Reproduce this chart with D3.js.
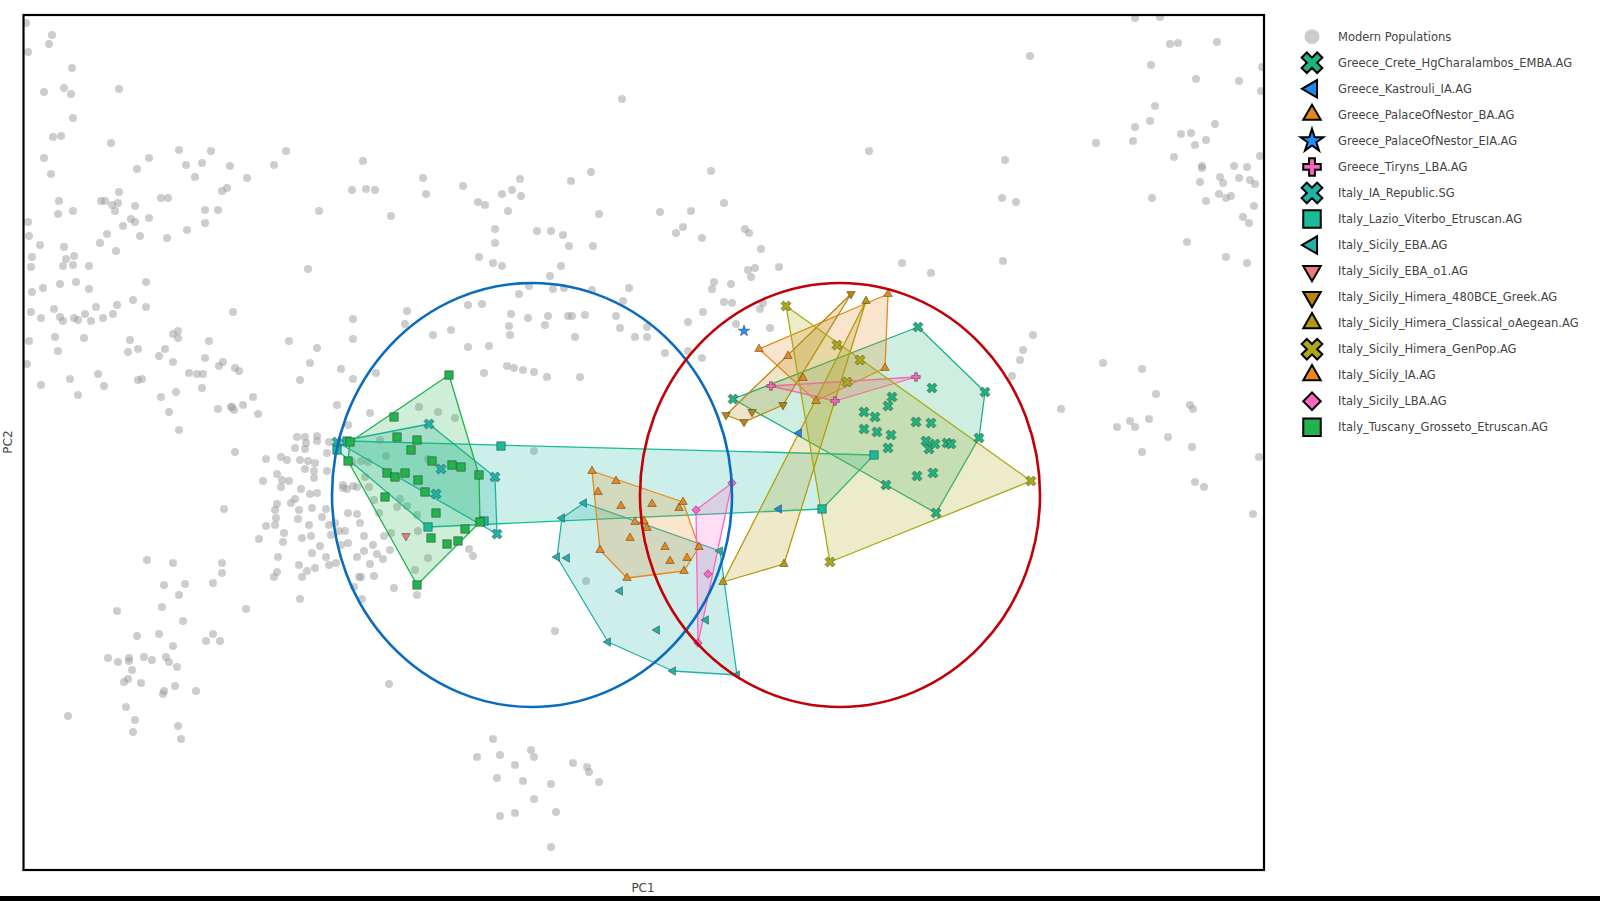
<!DOCTYPE html>
<html>
<head>
<meta charset="utf-8">
<script src="https://cdn.jsdelivr.net/npm/d3@7"></script>
<style>
  html, body { margin: 0; padding: 0; background: #fff; }
  svg { display: block; font-family: "DejaVu Sans", Verdana, sans-serif; }
</style>
</head>
<body>
<svg width="1600" height="901"></svg>
<script>

// PC scores, units of 1e-4  [PC1, PC2]
const modern = [
[-618,432],[-592,420],[-595,411],[-616,403],[-572,387],[-600,363],[-580,367],[-573,361],[-525,366],[-571,337],
[-591,318],[-583,319],[-533,312],[-600,297],[-593,281],[-495,297],[-507,286],[-465,305],[-458,290],[-442,292],
[-433,304],[-449,278],[-414,289],[-397,277],[-370,290],[-358,304],[-422,264],[-417,267],[-585,254],[-571,244],
[-586,241],[-543,254],[-539,254],[-525,263],[-532,250],[-526,252],[-529,244],[-509,249],[-483,257],[-476,257],
[-439,245],[-426,245],[-439,232],[-457,225],[-477,217],[-495,237],[-513,236],[-509,233],[-521,229],[-504,219],
[-537,221],[-544,212],[-528,204],[-616,233],[-615,219],[-604,210],[-580,208],[-612,198],[-613,188],[-578,196],
[-570,199],[-581,189],[-571,190],[-555,189],[-612,163],[-601,167],[-584,171],[-568,173],[-555,166],[-498,173],
[-292,265],[-278,266],[-269,265],[-281,294],[-325,244],[-253,239],[-336,186],[-511,155],
[-613,143],[-603,137],[-590,146],[-584,138],[-581,134],[-570,137],[-566,135],[-559,141],[-553,134],[-548,148],
[-541,137],[-531,141],[-527,150],[-498,148],[-411,143],[-615,114],[-589,118],[-586,104],[-560,117],[-514,115],
[-516,103],[-506,106],[-617,91],[-485,99],[-479,106],[-471,93],[-471,121],[-466,124],[-466,117],[-435,114],
[-439,97],[-425,89],[-421,93],[-409,87],[-405,84],[-455,82],[-447,81],[-441,81],[-574,76],[-546,81],
[-540,69],[-506,75],[-502,76],[-603,70],[-566,60],[-468,63],[-442,67],[-483,58],[-475,43],[-426,46],
[-413,48],[-410,45],[-401,50],[-391,58],[-386,41],[-465,25],[-355,114],[-327,107],[-334,92],[-344,75],
[-412,48],[-409,3],[-420,-54],[-378,-4],[-363,-2],[-357,-5],[-367,-19],[-362,-25],[-381,-26],[-355,-26],
[-363,-32],[-347,18],[-339,18],[-327,19],[-338,12],[-349,7],[-339,6],[-327,14],[-315,13],[-317,2],
[-344,-5],[-336,-6],[-329,-8],[-339,-14],[-330,-16],[-317,-16],[-307,50],[-274,42],[-296,30],[-330,-23],
[-343,-34],[-334,-39],[-327,-38],[-349,-44],[-367,-49],[-369,-55],[-353,-48],[-345,-55],[-332,-53],[-322,-62],
[-318,-54],[-368,-63],[-378,-71],[-369,-70],[-346,-64],[-335,-70],[-315,-70],[-309,-68],[-301,-30],[-301,-33],
[-297,-34],[-291,-31],[-287,-32],[-283,-6],[-279,-22],[-385,-84],[-360,-78],[-361,-87],[-342,-83],[-333,-81],
[-324,-91],[-313,-80],[-305,-76],[-299,-76],[-296,-58],[-287,-59],[-284,-68],[-280,-81],[-271,-90],[-280,-96],
[-287,-102],[-296,-88],[-303,-90],[-366,-102],[-332,-98],[-318,-102],[-345,-110],[-337,-116],[-329,-113],[-315,-110],
[-308,-108],[-367,-117],[-370,-122],[-342,-122],[-422,-108],[-422,-118],[-344,-144],[-398,-154],[-283,-122],[-270,-121],
[-282,-144],[-250,-133],[-274,-109],[-261,-104],[-254,-95],[-253,-78],[-244,-44],[-237,-51],[-247,-52],[-275,-32],
[-270,-45],[-265,-58],[-260,-81],[-227,-60],[-226,-76],[-276,-7],[-292,-7],
[-303,86],[-268,82],[-291,76],[-137,89],[-130,87],[-121,85],[-110,83],[-160,82],[-225,48],[-206,43],
[-189,37],[-110,4],[-216,-4],[-264,15],[-258,-1],[-175,-94],[-171,-101],[-216,-103],[-229,-115],[-227,-140],
[-267,-99],
[-497,-105],[-471,-108],[-480,-130],[-459,-129],[-465,-140],[-431,-128],[-527,-156],[-482,-152],[-461,-166],[-507,-181],
[-485,-179],[-471,-191],[-438,-186],[-431,-179],[-424,-186],[-536,-203],[-526,-207],[-515,-203],[-515,-206],[-500,-202],
[-492,-205],[-478,-202],[-475,-207],[-467,-212],[-512,-215],[-520,-227],[-516,-224],[-503,-228],[-469,-231],[-481,-239],
[-480,-236],[-448,-236],[-518,-252],[-509,-265],[-511,-277],[-466,-271],[-463,-284],[-576,-261],[-290,-132],[-285,-122],
[-221,277],[-218,261],[-181,269],[-166,253],[-159,250],[-142,261],[-132,265],[-124,276],[-123,259],[-136,244],
[-73,274],[-53,283],[-45,241],[-149,226],[-149,212],[-165,198],[-151,192],[-142,189],[-107,224],[-93,224],
[-81,220],[-75,209],[-51,209],[-83,189],[-94,179],[-115,169],[-91,166],[-80,167],[-52,165],[-125,161],
[-15,167],[16,243],[47,244],[39,228],[32,222],[58,217],[67,284],[80,252],[101,226],[105,222],
[117,206],[70,173],[68,166],[87,171],[104,185],[111,187],[107,178],[135,188],[80,153],[88,152],
[116,146],[119,152],[59,143],[44,133],[92,131],[126,127],[58,97],[21,102],[44,104],[3,128],
[3,118],[-9,118],[-24,127],[-28,139],[-21,154],[-59,140],[-69,118],[-76,139],[-72,139],[-96,139],
[-99,130],[-116,137],[-133,141],[-135,129],[-134,120],[-155,109],[-176,108],[-162,151],[-176,150],[-193,125],
[-211,120],[-237,144],[-239,131],[-291,136],[-291,116],[-97,78],[-64,78],
[491,437],[516,438],[526,411],[534,412],[573,413],[386,399],[507,390],[552,376],[595,374],[618,388],
[617,364],[511,349],[491,328],[506,334],[571,331],[452,312],[489,314],[537,321],[547,322],[551,310],
[562,315],[530,298],[361,295],[558,289],[558,287],[590,289],[603,288],[616,299],[556,273],[576,278],
[579,272],[595,277],[606,275],[611,271],[575,261],[582,257],[587,259],[562,254],[508,257],[358,257],
[372,253],[610,249],[599,238],[605,232],[543,213],[582,198],[603,192],[359,194],[389,120],[379,105],
[376,95],[368,79],[459,92],[498,86],[417,46],[512,61],[546,50],[549,46],[473,28],[486,34],
[491,28],[505,36],[524,18],[548,8],[498,3],[615,-2],[551,-27],[560,-32],[609,-59],
[-93,-392],[-144,-361],[-129,-358],[-110,-344],[-147,-323],[-121,-326],[-93,-329],[-167,-302],[-151,-284],[-144,-300],
[-129,-310],[-113,-295],[-110,-302],[-71,-308],[-57,-312],[-55,-317],[-45,-327],[-88,-357],
[-58,-126],[-89,-176],[-255,-229],[-22,356],[225,304],[258,192],[287,182]
];

const creteEMBA = [[274,128],[341,63],[335,17],[292,-58],[242,-30],[89,56],[288,67],[248,58],[244,49],[220,43],
  [231,38],[220,26],[233,23],[247,20],[244,7],[272,33],[287,32],[282,14],[285,6],[291,11],[303,12],[307,11],[273,-21],[289,-18]];
const kastrouliIA = [[155,22],[135,-54]];
const nestorBA = [[115,106],[244,161],[241,87],[144,99],[159,77],[172,54]];
const nestorEIA = [[100,124]];
const tirynsLBA = [[272,78],[127,69],[191,54]];
const iaRepublic = [[-307,13],[-215,31],[-203,-14],[-208,-39],[-149,-22],[-147,-79]];
const lazioViterbo = [[-307,5],[-297,14],[-143,9],[230,0],[178,-54],[-160,-66],[-216,-72]];
const sicilyEBA = [[-60,-48],[-82,-63],[-87,-102],[-77,-103],[-24,-136],[-36,-187],[13,-175],[29,-216],[93,-220],[76,-96],[62,-165]];
const sicilyEBAo1 = [[-238,-81]];
const himera480 = [[207,161],[82,40],[100,33],[108,43],[139,50]];
const himeraClassical = [[222,154],[79,-127],[140,-109]];
const himeraGenPop = [[142,149],[193,110],[387,-26],[186,-107],[203,73],[216,95]];
const sicilyIA = [[-52,-16],[-28,-26],[-46,-37],[-23,-51],[8,-49],[35,-53],[39,-47],[-9,-67],[0,-66],[3,-73],
  [-14,-83],[-44,-95],[21,-92],[26,-106],[43,-103],[40,-116],[-17,-123],[55,-92]];
const sicilyLBA = [[88,-28],[52,-55],[64,-119],[54,-188]];
const tuscanyGrosseto = [[-195,80],[-250,38],[-294,13],[-296,-6],[-247,18],[-227,15],[-233,5],[-212,-6],[-192,-10],[-183,-12],
  [-257,-18],[-249,-22],[-239,-18],[-226,-25],[-219,-37],[-165,-20],[-259,-42],[-208,-58],[-213,-83],[-197,-89],
  [-186,-86],[-179,-74],[-227,-130],[-164,-67]];

const groupNames = ['Greece_Crete_HgCharalambos_EMBA.AG', 'Greece_Kastrouli_IA.AG', 'Greece_PalaceOfNestor_BA.AG',
  'Greece_PalaceOfNestor_EIA.AG', 'Greece_Tiryns_LBA.AG', 'Italy_IA_Republic.SG', 'Italy_Lazio_Viterbo_Etruscan.AG',
  'Italy_Sicily_EBA.AG', 'Italy_Sicily_EBA_o1.AG', 'Italy_Sicily_Himera_480BCE_Greek.AG',
  'Italy_Sicily_Himera_Classical_oAegean.AG', 'Italy_Sicily_Himera_GenPop.AG', 'Italy_Sicily_IA.AG',
  'Italy_Sicily_LBA.AG', 'Italy_Tuscany_Grosseto_Etruscan.AG'];
const groupPoints = [creteEMBA, kastrouliIA, nestorBA, nestorEIA, tirynsLBA, iaRepublic, lazioViterbo,
  sicilyEBA, sicilyEBAo1, himera480, himeraClassical, himeraGenPop, sicilyIA, sicilyLBA, tuscanyGrosseto];
const groupColors = ['#1fb27c', '#1e88e5', '#e38a1c', '#1e90ff', '#f868b8', '#1eb3a6', '#18bb9a',
  '#20b2aa', '#f07a7a', '#b8860b', '#b49a0c', '#aaa814', '#e8891a', '#ff66c2', '#22b34c'];
const groupSymbols = ['x', 'triangle-left', 'triangle-up', 'star', 'cross', 'x', 'square',
  'triangle-left', 'triangle-down', 'triangle-down', 'triangle-up', 'x', 'triangle-up', 'diamond', 'square'];

// the two circles drawn over the plot: [centre PC1, centre PC2, radius PC1, radius PC2]
const circles = [[-112, -40, 200, 212], [196, -40, 200, 212]];
const circleColors = ['#0a6cbf', '#c20008'];

let svg = d3.select('svg');

let x = d3.scaleLinear().domain([-620.5, 620]).range([23.5, 1264]);
let y = d3.scaleLinear().domain([-415, 440]).range([870, 15]);

// symbol helpers | area from the visible span of the marker
let symbolBase = {
  circle: d3.symbolCircle, square: d3.symbolSquare, diamond: d3.symbolSquare,
  x: d3.symbolCross, cross: d3.symbolCross, star: d3.symbolStar,
  'triangle-up': d3.symbolTriangle, 'triangle-down': d3.symbolTriangle, 'triangle-left': d3.symbolTriangle
};
let symbolRot = { x: 45, diamond: 45, 'triangle-down': 180, 'triangle-left': -90 };
function symbolArea(type, s) {
  if (type === 'square') return s * s;
  if (type === 'diamond') return s * s / 2;
  if (type === 'circle') return Math.PI * s * s / 4;
  if (type.startsWith('triangle')) return Math.sqrt(3) / 4 * s * s;
  if (type === 'cross') return 5 * s * s / 9;
  if (type === 'x') return 5 * (s * 1.25) * (s * 1.25) / 9;
  if (type === 'star') return (s / 2) * (s / 2) / 0.8908;
  return s * s;
}
function symbolPath(type, s) {
  return d3.symbol(symbolBase[type], symbolArea(type, s))();
}

svg.append('defs').append('clipPath').attr('id', 'plotclip')
  .append('rect')
  .attr('x', 23.5).attr('y', 15).attr('width', 1240.5).attr('height', 855);

let plot = svg.append('g').attr('clip-path', 'url(#plotclip)');

// modern populations
plot.append('g')
  .selectAll('circle')
  .data(modern)
  .enter().append('circle')
  .attr('cx', d => x(d[0]))
  .attr('cy', d => y(d[1]))
  .attr('r', 4)
  .style('fill', '#9c9c9c')
  .style('opacity', 0.5);

// convex hulls
let hulls = plot.append('g');
groupPoints.forEach(function (pts, i) {
  if (pts.length < 3) return;
  let hull = d3.polygonHull(pts.map(d => [x(d[0]), y(d[1])]));
  hulls.append('path')
    .attr('d', 'M' + hull.join('L') + 'Z')
    .style('fill', groupColors[i])
    .style('fill-opacity', 0.22)
    .style('stroke', groupColors[i])
    .style('stroke-width', 1.3)
    .style('stroke-linejoin', 'round');
});

// sample markers
let marks = plot.append('g');
groupPoints.forEach(function (pts, i) {
  let t = groupSymbols[i];
  marks.append('g')
    .selectAll('path')
    .data(pts)
    .enter().append('path')
    .attr('d', symbolPath(t, t === 'star' ? 12 : 8.5))
    .attr('transform', d => 'translate(' + x(d[0]) + ',' + y(d[1]) + ') rotate(' + (symbolRot[t] || 0) + ')')
    .style('fill', groupColors[i])
    .style('stroke', 'rgba(40,40,40,0.55)')
    .style('stroke-width', 0.8);
});

// circles
plot.append('g')
  .selectAll('ellipse')
  .data(circles)
  .enter().append('ellipse')
  .attr('cx', d => x(d[0]))
  .attr('cy', d => y(d[1]))
  .attr('rx', d => x(d[0] + d[2]) - x(d[0]))
  .attr('ry', d => y(d[1] - d[3]) - y(d[1]))
  .style('fill', 'none')
  .style('stroke', (d, i) => circleColors[i])
  .style('stroke-width', 2.6);

// frame
svg.append('rect')
  .attr('x', 23.5).attr('y', 15).attr('width', 1240.5).attr('height', 855)
  .style('fill', 'none')
  .style('stroke', '#000')
  .style('stroke-width', 2.2);

// axis titles
svg.append('text')
  .attr('x', 643).attr('y', 892)
  .attr('text-anchor', 'middle')
  .style('font-size', '12px')
  .style('fill', '#444')
  .text('PC1');
svg.append('text')
  .attr('transform', 'translate(12,442) rotate(-90)')
  .attr('text-anchor', 'middle')
  .style('font-size', '12px')
  .style('fill', '#444')
  .text('PC2');

// bottom black band
svg.append('rect')
  .attr('x', 0).attr('y', 896).attr('width', 1600).attr('height', 5)
  .style('fill', '#000');

// legend
let legendNames = ['Modern Populations'].concat(groupNames);
let legendSymbols = ['circle'].concat(groupSymbols);
let legendColors = ['#cccccc'].concat(groupColors);

let legend = svg.append('g')
  .selectAll('g')
  .data(legendNames)
  .enter().append('g')
  .attr('transform', (d, i) => 'translate(1312,' + (36.7 + i * 26.04) + ')');

legend.append('path')
  .attr('d', (d, i) => symbolPath(legendSymbols[i], legendSymbols[i] === 'star' ? 24 : (i === 0 ? 15 : 17.5)))
  .attr('transform', (d, i) => 'rotate(' + (symbolRot[legendSymbols[i]] || 0) + ')')
  .style('fill', (d, i) => legendColors[i])
  .style('stroke', (d, i) => i === 0 ? 'none' : '#000')
  .style('stroke-width', 2);

legend.append('text')
  .attr('x', 26)
  .attr('dy', '0.35em')
  .style('font-size', '11.5px')
  .style('fill', '#444')
  .text(d => d);

</script>
</body>
</html>
